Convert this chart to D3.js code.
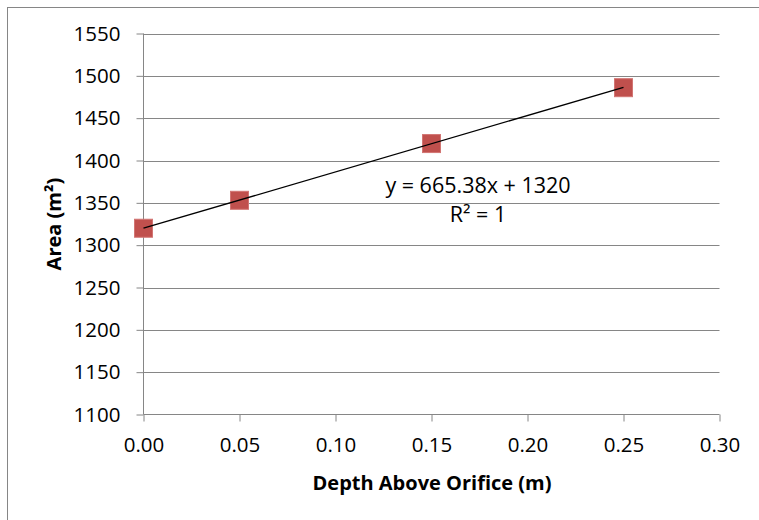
<!DOCTYPE html>
<html><head><meta charset="utf-8">
<script src="https://cdn.jsdelivr.net/npm/d3@7"></script>
<style>body{margin:0;background:#fff}svg{display:block}text{font-family:"Open Sans",sans-serif;fill:#000}</style>
</head><body><svg id="c" width="759" height="520"></svg>
<script>
const depth = [0.00, 0.05, 0.15, 0.25];
const area = [1320, 1353, 1420, 1486];
const slope = 665.38, intercept = 1320;
const xTicks = [0, 0.05, 0.10, 0.15, 0.20, 0.25, 0.30];
const yTicks = [1100,1150,1200,1250,1300,1350,1400,1450,1500,1550];
const xTitle = "Depth Above Orifice (m)";
const yTitle = "Area (m²)";
const eqText = "y = 665.38x + 1320";
const r2Text = "R² = 1";

const svg = d3.select("#c");
const m = {l:143.5, r:719.5, t:33.5, b:414.5};
const x = d3.scaleLinear().domain([0,0.30]).range([m.l, m.r]);
const y = d3.scaleLinear().domain([1100,1550]).range([m.b, m.t]);
const grey = "#868686";
const fs = 20.5;

svg.append("rect").attr("x",7.5).attr("y",7.5).attr("width",760).attr("height",520)
  .attr("fill","#fff").attr("stroke",grey).attr("stroke-width",1);

// gridlines
svg.append("g").selectAll("line").data(yTicks.slice(1)).join("line")
  .attr("x1",m.l).attr("x2",m.r).attr("y1",d=>Math.round(y(d))+0.5).attr("y2",d=>Math.round(y(d))+0.5)
  .attr("stroke",grey).attr("stroke-width",1);

// y axis
const ya = svg.append("g").attr("transform",`translate(${m.l},0)`)
  .call(d3.axisLeft(y).tickValues(yTicks).tickSize(7).tickPadding(16).tickFormat(d3.format("d")));
ya.select(".domain").attr("stroke",grey).attr("d",`M0,${m.t}V${m.b}`);
ya.selectAll(".tick line").attr("stroke",grey);
ya.selectAll(".tick text").attr("font-size",fs).attr("font-family","Open Sans").attr("fill","#000");

// x axis
const xa = svg.append("g").attr("transform",`translate(0,${m.b})`)
  .call(d3.axisBottom(x).tickValues(xTicks).tickSize(7).tickPadding(16).tickFormat(d3.format(".2f")));
xa.select(".domain").attr("stroke",grey).attr("d",`M${m.l},0H${m.r}`);
xa.selectAll(".tick line").attr("stroke",grey);
xa.selectAll(".tick text").attr("font-size",fs).attr("font-family","Open Sans").attr("fill","#000");

// markers
svg.append("g").selectAll("rect").data(depth.map((d,i)=>[d,area[i]])).join("rect")
  .attr("x",d=>x(d[0])-9).attr("y",d=>y(d[1])-9).attr("width",18).attr("height",18)
  .attr("fill","#C0504D").attr("stroke","#d27573").attr("stroke-width",1);

// trendline
const x0 = d3.min(depth), x1 = d3.max(depth);
svg.append("line").attr("x1",x(x0)).attr("y1",y(slope*x0+intercept))
  .attr("x2",x(x1)).attr("y2",y(slope*x1+intercept)).attr("stroke","#000").attr("stroke-width",1.3);

// equation
svg.append("text").attr("x",478).attr("y",193).attr("text-anchor","middle").attr("font-size",21.5).text(eqText);
svg.append("text").attr("x",478).attr("y",222).attr("text-anchor","middle").attr("font-size",21.5).text(r2Text);

// titles
svg.append("text").attr("x",432).attr("y",490).attr("text-anchor","middle")
  .attr("font-size",20).attr("font-weight","bold").text(xTitle);
svg.append("text").attr("transform",`translate(61,${(m.t+m.b)/2}) rotate(-90)`).attr("text-anchor","middle")
  .attr("font-size",20).attr("font-weight","bold").text(yTitle);
</script></body></html>
